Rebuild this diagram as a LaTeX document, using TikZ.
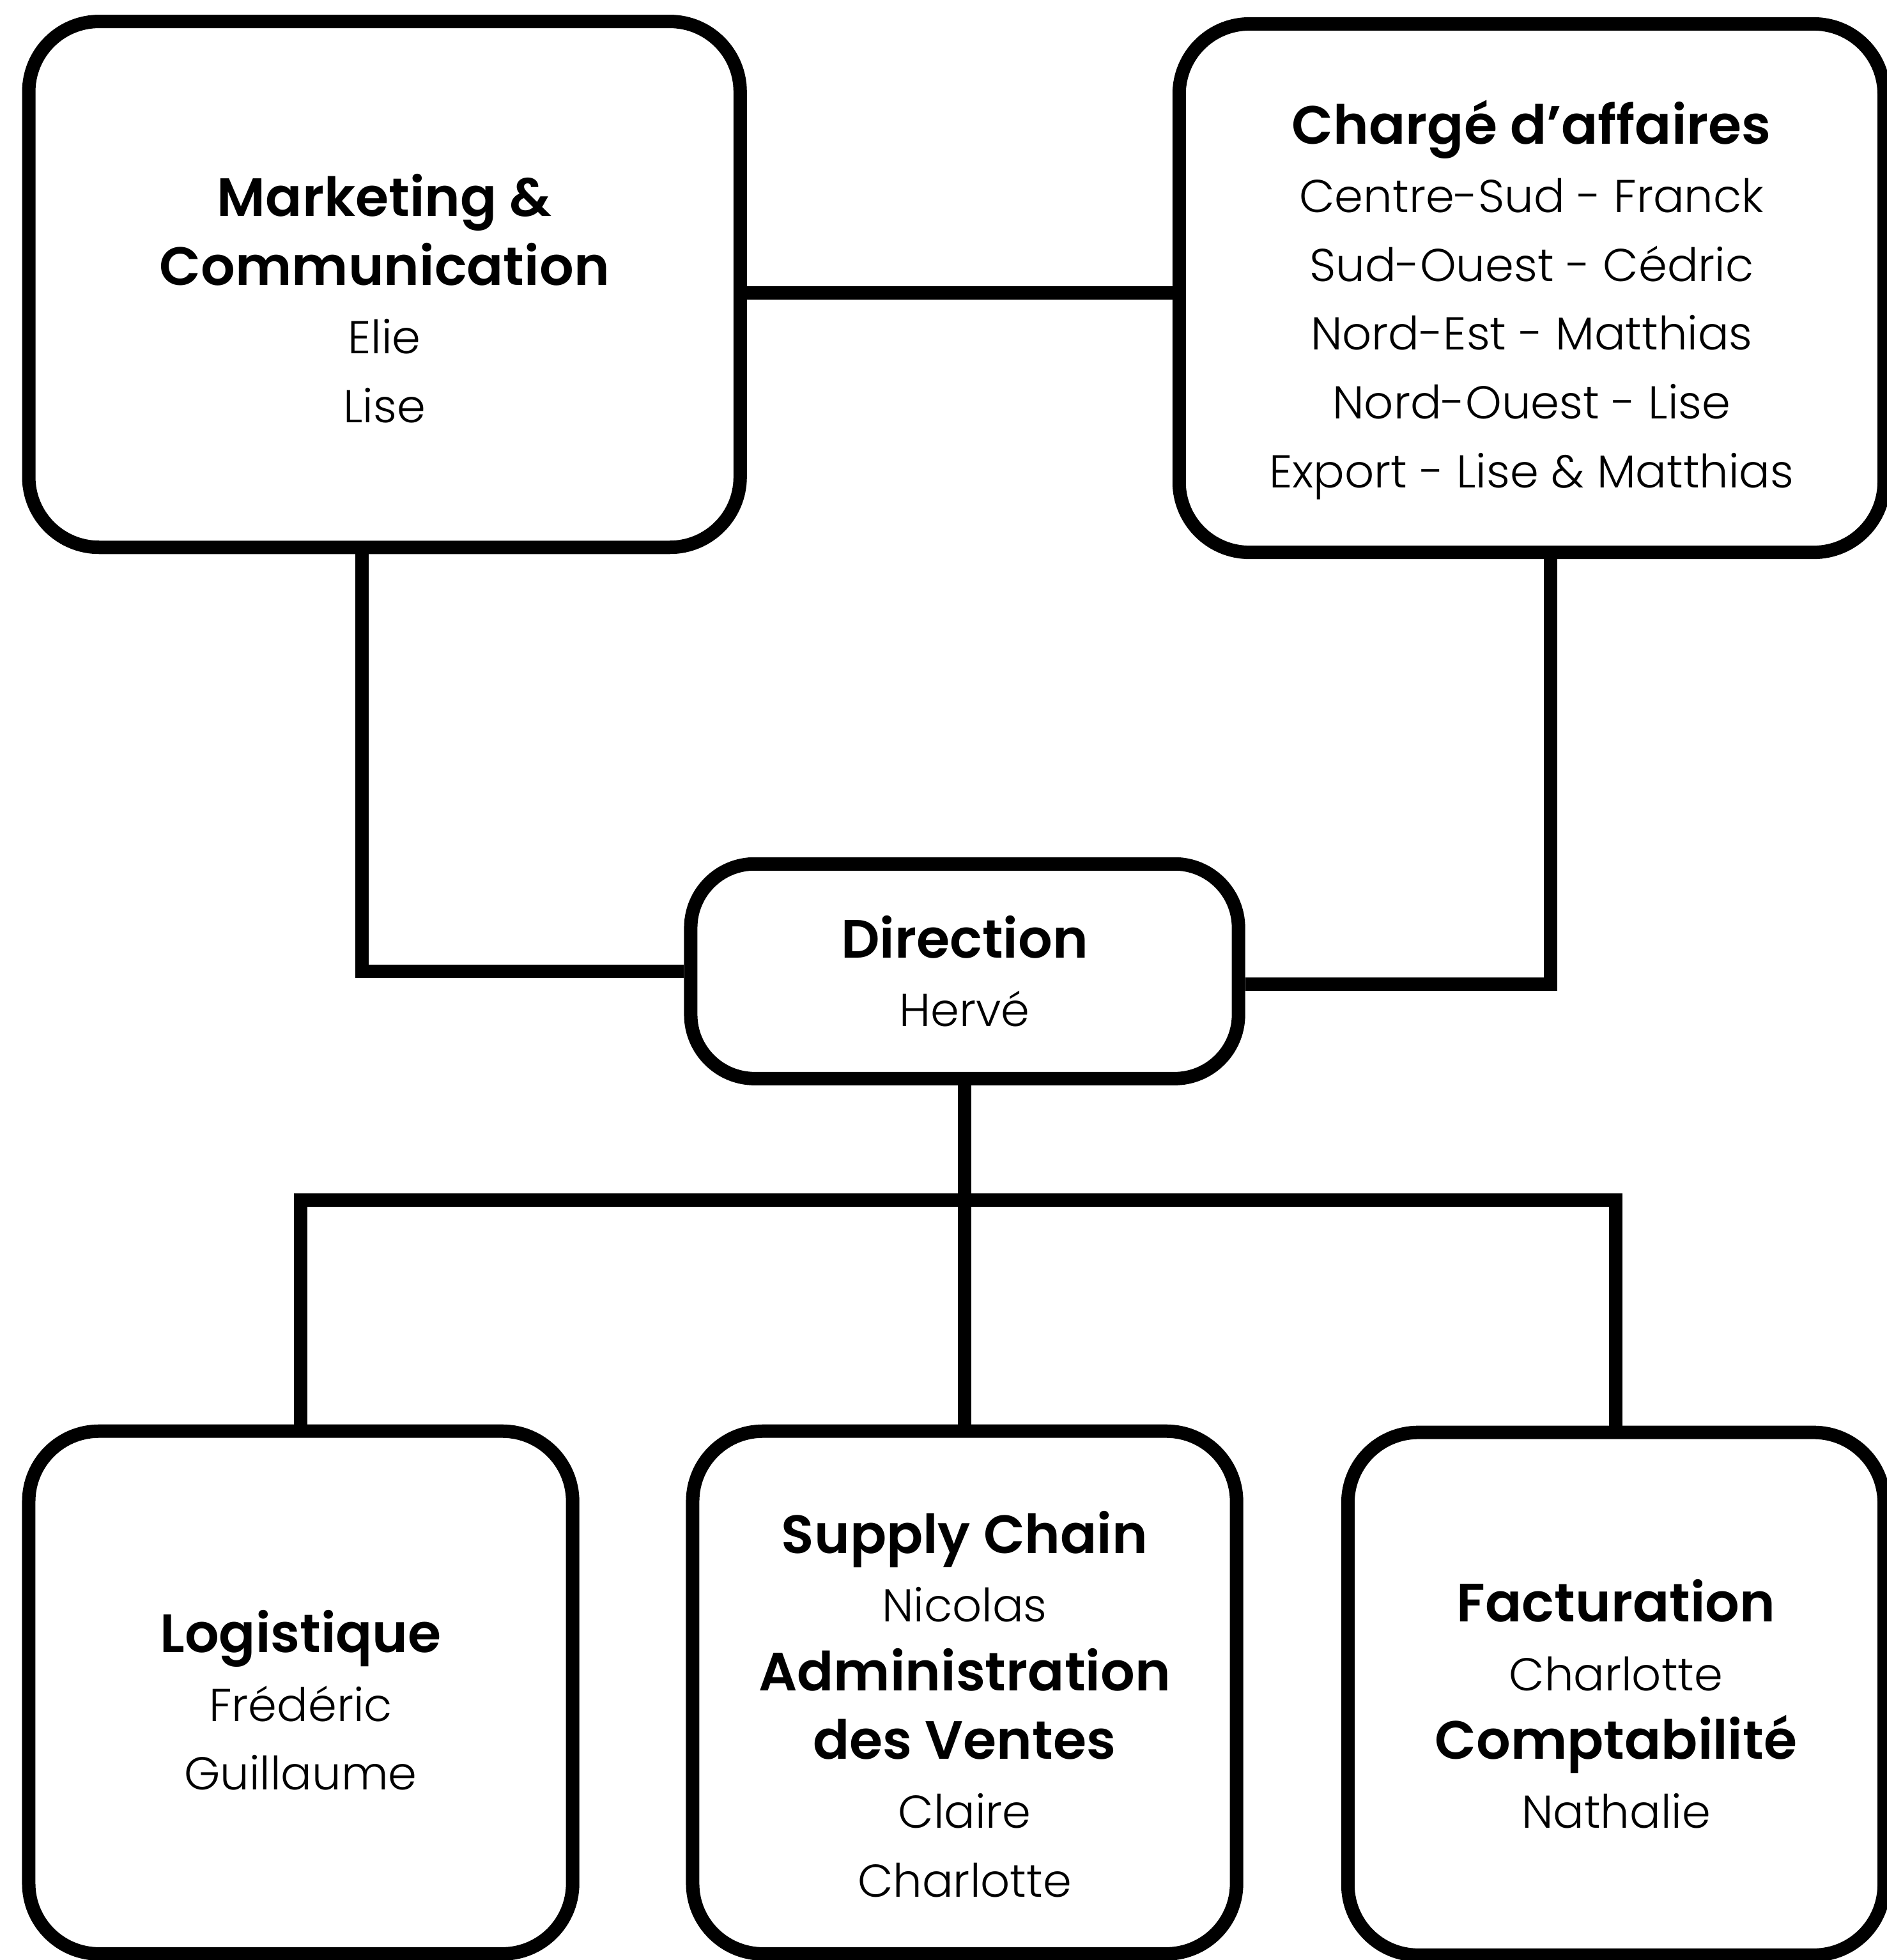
\documentclass[tikz,border=0pt]{standalone}
\usepackage{fontspec}
\setmainfont{Poppins}[UprightFont=*-Light, BoldFont=*-SemiBold]
\newcommand{\titre}[1]{{\fontsize{24}{30.6}\selectfont\bfseries #1}}
\tikzset{
  service/.style={draw, line width=0.21cm, rounded corners=1.1cm, inner sep=0pt},
  texte/.style={align=center, inner sep=0pt, font=\fontsize{20.5}{30.6}\selectfont},
  lien/.style={line width=0.21cm}
}
\begin{document}
\begin{tikzpicture}[x=0.01956cm, y=-0.01956cm]
  \useasboundingbox (0,0) rectangle (1509,1568);

  % services du haut
  \node [service, minimum width=11.13cm, minimum height=8.23cm] (mkt) at (307.5,227.5) {};
  \node [texte] (mkt-t) at ([yshift=-0.22cm]mkt.center)
    {\titre{Marketing \&}\\ \titre{Communication}\\ Elie\\ Lise};
  \node [service, minimum width=11.03cm, minimum height=8.27cm] (chg) at (1225,230.5) {};
  \node [texte] (chg-t) at ([yshift=-0.18cm]chg.center)
    {\titre{Chargé d’affaires}\\ Centre-Sud - Franck\\ Sud-Ouest - Cédric\\ Nord-Est - Matthias\\
     Nord-Ouest - Lise\\ Export - Lise \& Matthias};

  % direction
  \node [service, minimum width=8.57cm, minimum height=3.36cm, rounded corners=1cm] (dir) at (771.5,777) {};
  \node [texte] (dir-t) at (dir.center) {\titre{Direction}\\ Hervé};

  % services du bas
  \node [service, minimum width=8.51cm, minimum height=8.18cm] (log) at (240.5,1354) {};
  \node [texte] (log-t) at ([yshift=-0.12cm]log.center) {\titre{Logistique}\\ Frédéric\\ Guillaume};
  \node [service, minimum width=8.51cm, minimum height=8.18cm] (sup) at (771.5,1354) {};
  \node [texte] (sup-t) at ([yshift=-0.18cm]sup.center)
    {\titre{Supply Chain}\\ Nicolas\\ \titre{Administration}\\ \titre{des Ventes}\\ Claire\\ Charlotte};
  \node [service, minimum width=8.39cm, minimum height=8.18cm] (fac) at (1292.5,1355) {};
  \node [texte] (fac-t) at ([yshift=-0.16cm]fac.center)
    {\titre{Facturation}\\ Charlotte\\ \titre{Comptabilité}\\ Nathalie};

  \coordinate (bus) at (771.5,960);

  \draw [lien] ([yshift=-0.13cm]mkt.east) -- ([yshift=-0.13cm]mkt.east -| chg.west);
  \draw [lien] (dir.west) -| ([xshift=-0.35cm]mkt.south);
  \draw [lien] ([yshift=-0.2cm]dir.east) -| ([xshift=0.3cm]chg.south);
  \draw [lien] (dir.south) -- (sup.north);
  \draw [lien] (log.north) |- (bus) -| (fac.north);
\end{tikzpicture}
\end{document}
